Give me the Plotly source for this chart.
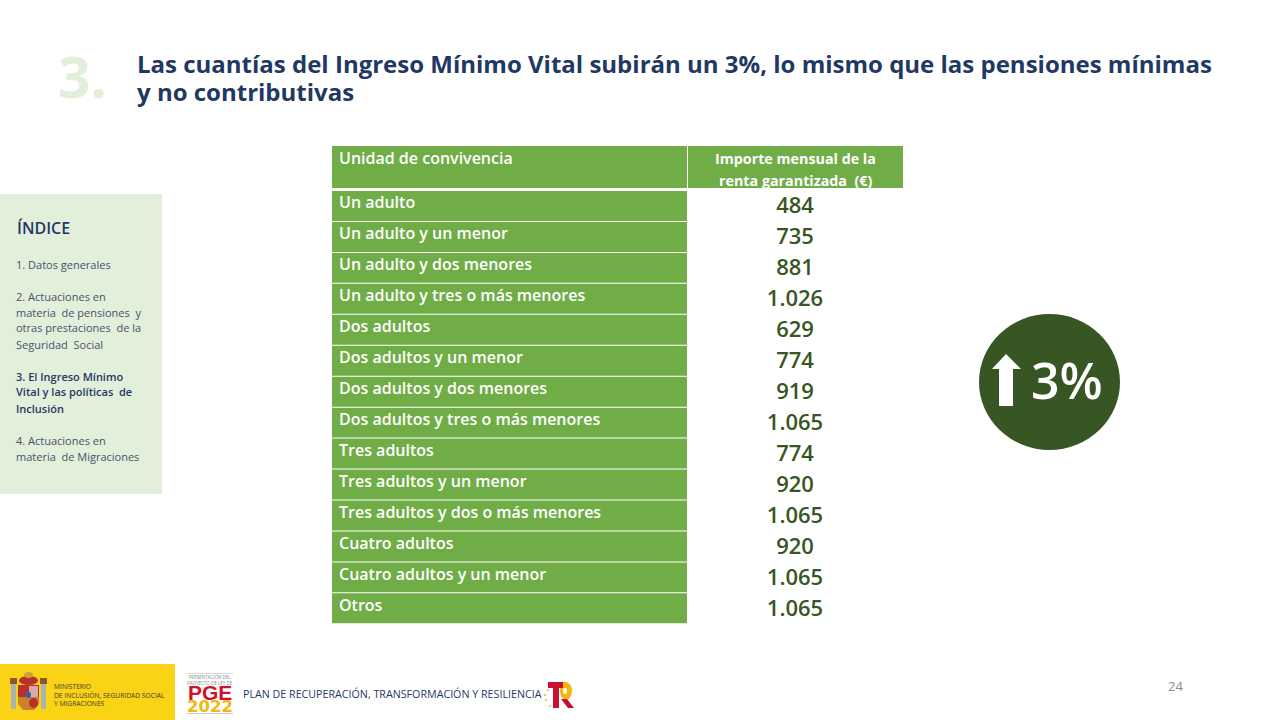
import plotly.graph_objects as go

W, H = 1280, 720

# table data
header = ["Unidad de convivencia", ""]
header_importe = ["Importe mensual de la", "renta garantizada  (€)"]
unidades = ["Un adulto", "Un adulto y un menor", "Un adulto y dos menores", "Un adulto y tres o más menores",
            "Dos adultos", "Dos adultos y un menor", "Dos adultos y dos menores", "Dos adultos y tres o más menores",
            "Tres adultos", "Tres adultos y un menor", "Tres adultos y dos o más menores",
            "Cuatro adultos", "Cuatro adultos y un menor", "Otros"]
importes = ["484", "735", "881", "1.026", "629", "774", "919", "1.065", "774", "920", "1.065", "920", "1.065", "1.065"]

titulo = ["Las cuantías del Ingreso Mínimo Vital subirán un 3%, lo mismo que las pensiones mínimas",
          "y no contributivas"]
indice = [("1. Datos generales", 265, False),
          ("2. Actuaciones en", 297, False),
          ("materia  de pensiones  y", 313, False),
          ("otras prestaciones  de la", 329, False),
          ("Seguridad  Social", 345, False),
          ("3. El Ingreso Mínimo", 377, True),
          ("Vital y las políticas  de", 393, True),
          ("Inclusión", 409, True),
          ("4. Actuaciones en", 441, False),
          ("materia  de Migraciones", 457, False)]

VERDE = "#70AD47"
VERDE_OSCURO = "#375623"
VERDE_CLARO = "#E2EFDA"
AZUL = "#1F3864"
FONT = "Open Sans"
ROW_H = 31


def px(x):
    return x / W


def py(y):
    return 1 - y / H


def rect(x0, y0, x1, y1, color, kind="rect", layer="above"):
    return dict(type=kind, xref="paper", yref="paper", x0=px(x0), x1=px(x1), y0=py(y0), y1=py(y1),
                fillcolor=color, line=dict(width=0), layer=layer)


def poly(points, color):
    d = "M " + " L ".join(f"{px(x):.5f},{py(y):.5f}" for x, y in points) + " Z"
    return dict(type="path", xref="paper", yref="paper", path=d, fillcolor=color, line=dict(width=0), layer="above")


def label(x, y, text, size, color, weight=400, anchor="left", family=FONT):
    # annotations carry a small pad, pull them back so x,y match the pixel
    x = x - 2 if anchor == "left" else x
    return dict(xref="paper", yref="paper", x=px(x), y=py(y - 1), text=text, showarrow=False,
                xanchor=anchor, yanchor="middle", align=anchor,
                font=dict(family=family, size=size, color=color, weight=weight))


# the text sits high in the source rows, so the table only holds the text and the fills are shapes
fig = go.Figure(go.Table(
    domain=dict(x=[px(331), px(903)], y=[py(627), py(144)]),
    columnwidth=[356, 216],
    header=dict(values=header, height=44, align=["left", "center"],
                fill_color="rgba(0,0,0,0)", line=dict(color="rgba(0,0,0,0)", width=0),
                font=dict(family=FONT, size=16, color="white", weight=600)),
    cells=dict(values=[unidades, importes], height=ROW_H, align=["left", "center"],
               fill_color="rgba(0,0,0,0)", line=dict(color="rgba(0,0,0,0)", width=0),
               font=dict(family=FONT, size=[16, 22], color=["white", VERDE_OSCURO], weight=600)),
))

shapes = [
    # table fills
    rect(332, 146, 687, 188, VERDE, layer="below"),
    rect(688, 146, 903, 188, VERDE, layer="below"),
    # sidebar
    rect(0, 194, 162, 494, VERDE_CLARO),
    # +3% badge
    rect(979, 314, 1120, 450, VERDE_OSCURO, "circle"),
    poly([(1006, 354), (1021, 369), (1013, 369), (1013, 406), (999, 406), (999, 369), (992, 369)], "white"),
    # ministry band and crest
    rect(0, 664, 175, 720, "#FBD316"),
    rect(11, 684, 16, 709, "#A9B4B0"),
    rect(41, 684, 46, 709, "#A9B4B0"),
    rect(10, 678, 17, 684, "#8A5A2A"),
    rect(40, 678, 47, 684, "#8A5A2A"),
    rect(19, 676, 38, 685, "#B5322A", "circle"),
    rect(24, 672, 33, 678, "#C9A23A", "circle"),
    rect(18, 685, 39, 698, "#B5322A"),
    rect(29, 686, 38, 697, "#D9A6B4"),
    poly([(18, 697), (39, 697), (39, 704), (34, 710), (23, 710), (18, 704)], "#C9812A"),
    rect(29, 698, 38, 708, "#B5322A", "circle"),
    rect(26, 692, 31, 698, "#2F5EA8", "circle"),
    # PGE logo lines
    rect(187, 673, 233, 674, "#D8D8D8"),
    rect(187, 713, 233, 714, "#C8C8C8"),
    # TR logo
    rect(559, 682, 566, 688, "#F2B711"),
    rect(560, 682, 572, 700, "#F2B711", "circle"),
    rect(563, 688, 567, 694, "white", "circle"),
    rect(548, 682, 563, 688, "#C8102E"),
    rect(553, 682, 559, 708, "#C8102E"),
    poly([(561, 699), (567, 699), (574, 708), (568, 708)], "#C8102E"),
    rect(547, 689, 549, 691, "#F2B711", "circle"),
    rect(544, 694, 546, 696, "#F2B711", "circle"),
    rect(545, 699, 547, 701, "#F2B711", "circle"),
    rect(549, 705, 551, 707, "#F2B711", "circle"),
]
# one green block per row, the gaps give the white separators
for i in range(len(unidades)):
    y0 = 191 + i * 30.95
    shapes.append(rect(332, y0, 687, y0 + 29.95, VERDE, layer="below"))

annotations = [
    label(58, 77, "3.", 57, VERDE_CLARO, 700),
    label(137, 64, titulo[0], 24, AZUL, 700),
    label(137, 92, titulo[1], 24, AZUL, 700),
    label(17, 229, "ÍNDICE", 16, AZUL, 600),
    label(1067, 381, "3%", 50, "white", 600, "center"),
    label(795.5, 159, header_importe[0], 14.3, "white", 700, "center"),
    label(795.5, 181, header_importe[1], 14.3, "white", 700, "center"),
    label(54, 696, "MINISTERIO<br>DE INCLUSIÓN, SEGURIDAD SOCIAL<br>Y MIGRACIONES", 6.7, "#3A3A2A", 400),
    label(210, 693, "PGE", 21, "#D0112B", 700, "center", "Liberation Sans"),
    label(210, 707, "2022", 16.5, "#F2B711", 700, "center", "DejaVu Sans"),
    label(210, 680, "PRESENTACIÓN DEL<br>PROYECTO DE LEY DE", 4.5, "#8A8A8A", 400, "center"),
    label(243, 695, "PLAN DE RECUPERACIÓN, TRANSFORMACIÓN Y RESILIENCIA", 10.7, AZUL, 400),
    label(1175, 687, "24", 13, "#8C8C8C", 400, "center"),
]
for texto, y, negrita in indice:
    annotations.append(label(16, y, texto, 11, AZUL if negrita else "#44546A", 600 if negrita else 400))

fig.update_layout(width=W, height=H, margin=dict(l=0, r=0, t=0, b=0),
                  paper_bgcolor="white", plot_bgcolor="white", showlegend=False,
                  shapes=shapes, annotations=annotations)

fig.write_html("out.html", config=dict(displayModeBar=False), post_script="document.body.style.margin='0';")
